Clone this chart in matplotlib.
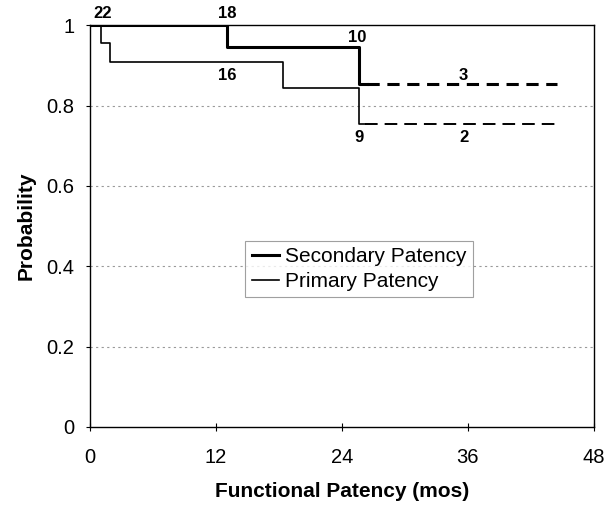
import matplotlib
matplotlib.use("Agg")
import matplotlib.pyplot as plt

plt.rcParams['font.family'] = ['Liberation Sans', 'DejaVu Sans']

# Kaplan-Meier steps (months, probability)
sec_t = [0, 13.1, 25.6]
sec_p = [1.0, 0.945, 0.853]
sec_end = 44.5

pri_t = [0, 1.1, 1.9, 18.4, 25.6]
pri_p = [1.0, 0.955, 0.909, 0.845, 0.753]
pri_end = 44.5

# numbers at risk
risk_labels = ['22', '18', '10', '16', '9', '3', '2']
risk_x = [1.2, 13.1, 25.5, 13.1, 25.6, 35.6, 35.6]
risk_y = [1.03, 1.03, 0.97, 0.875, 0.72, 0.875, 0.72]

xticks = [0, 12, 24, 36, 48]
yticks = [0, 0.2, 0.4, 0.6, 0.8, 1.0]
yticklabels = ['0', '0.2', '0.4', '0.6', '0.8', '1']

fig = plt.figure(figsize=(6.11, 5.05), dpi=100)
ax = fig.add_axes([0.147, 0.1545, 0.825, 0.7955])

for y in yticks[1:-1]:
    ax.axhline(y, color='#999999', lw=0.8, ls=(0, (2, 3)), zorder=0)

# secondary: solid steps then dashed tail
ax.step(sec_t + [sec_t[-1] + 0.8], sec_p + [sec_p[-1]], where='post', color='black', lw=2.2,
        label='Secondary Patency')
ax.plot([sec_t[-1] + 0.8, sec_end], [sec_p[-1], sec_p[-1]], color='black', lw=2.2, ls=(0, (4, 2.5)))

# primary
ax.step(pri_t + [pri_t[-1] + 0.6], pri_p + [pri_p[-1]], where='post', color='black', lw=1.2,
        label='Primary Patency')
ax.plot([pri_t[-1] + 0.6, pri_end], [pri_p[-1], pri_p[-1]], color='black', lw=1.4, ls=(0, (6.5, 3.6)))

for s, x, y in zip(risk_labels, risk_x, risk_y):
    ax.text(x, y, s, ha='center', va='center', fontsize=12, fontweight='bold')

ax.set_xlim(0, 48)
ax.set_ylim(0, 1)
ax.set_xticks(xticks)
ax.set_yticks(yticks)
ax.set_yticklabels(yticklabels)
ax.tick_params(axis='y', labelsize=14.5, length=3, width=0.8, pad=8)
ax.tick_params(axis='x', labelsize=14.5, direction='inout', length=6, width=0.8, pad=12)
for sp in ax.spines.values():
    sp.set_linewidth(1.0)
ax.set_xlabel('Functional Patency (mos)', fontsize=15, fontweight='bold', labelpad=11)
ax.set_ylabel('Probability', fontsize=15, fontweight='bold', labelpad=8)

leg = ax.legend(loc='center', bbox_to_anchor=(0.534, 0.393), fontsize=15, frameon=True,
                fancybox=False, handlelength=1.3, handletextpad=0.3, borderpad=0.3,
                labelspacing=0.3, borderaxespad=0)
leg.get_frame().set_edgecolor('#888888')
leg.get_frame().set_linewidth(0.8)

fig.savefig('out.png', dpi=100)
